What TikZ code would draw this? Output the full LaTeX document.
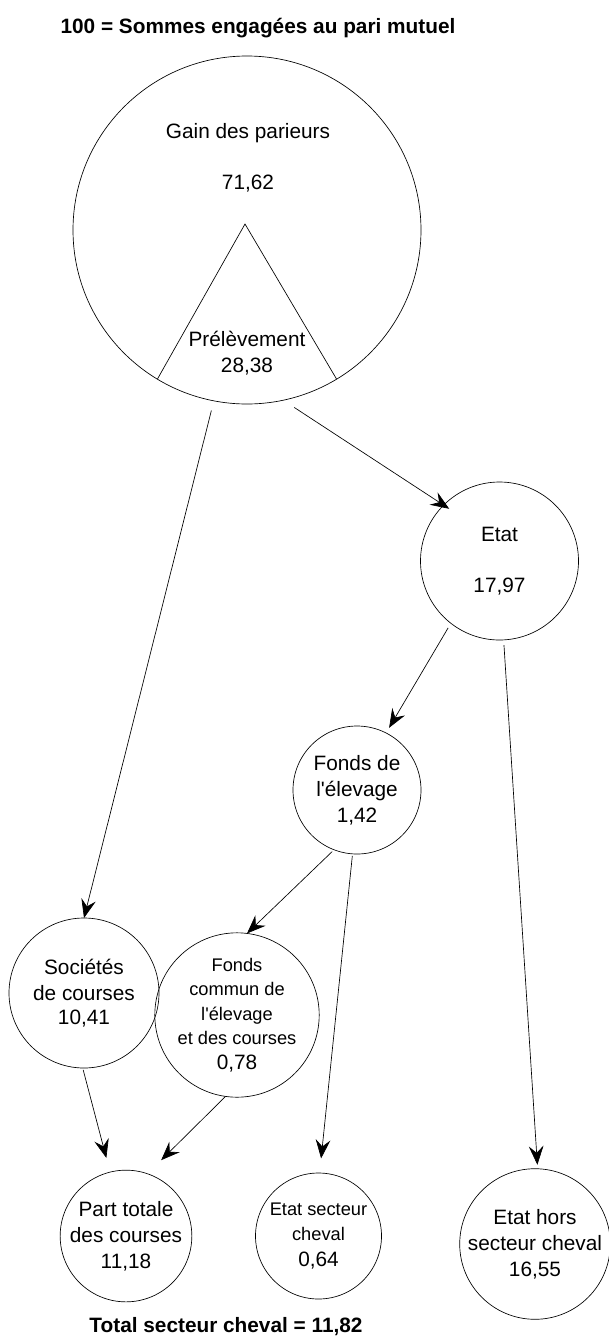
\documentclass[tikz,border=0pt]{standalone}
\usepackage{fontspec}
\setmainfont{Liberation Sans}[Ligatures=TeXOff]
\usetikzlibrary{arrows.meta}

\newcommand{\grand}{\fontsize{15.6}{19.5}\selectfont}
\newcommand{\petit}{\fontsize{13.7}{18.4}\selectfont}

\begin{document}
\begin{tikzpicture}[x=0.75pt,y=-0.75pt]
            \tikzset{rond/.style = {shape=circle, draw, line width=0.5pt, inner sep=0pt, outer sep=0pt, align=center, font=\grand}}
            \tikzset{texte/.style = {inner sep=0pt, align=center, font=\grand}}
            \tikzset{fleche/.style = {draw, line width=0.5pt, -{Stealth[length=14pt, width=11pt, inset=5pt]}}}
            \useasboundingbox (0,0) rectangle (609,1339);
            % titres
            \node[texte, font=\grand\bfseries] (titre) at (258,28) {100 = Sommes engagées au pari mutuel};
            \node[texte, font=\grand\bfseries] (total) at (226,1327) {Total secteur cheval = 11,82};
            % cercles
            \node[rond, minimum size=261pt] (big) at (247,230) {};
            \node[texte] (gain) at (248,158) {Gain des parieurs\\[19pt]71,62};
            \coordinate (apex) at (245,224);
            \draw[line width=0.5pt] (big.239) -- (apex) -- (big.301);
            \node[texte] (prelev) at (247,353) {Prélèvement\\[0.5pt]28,38};
            \node[rond, minimum size=118.5pt] (etat) at (499.5,561) {Etat\\[19pt]17,97};
            \node[rond, minimum size=96pt] (fondsel) at (357,790) {Fonds de\\[0.5pt]l'élevage\\[-0.5pt]1,42};
            \node[rond, minimum size=112.5pt] (societes) at (84,993) {Sociétés\\de courses\\[-1pt]10,41};
            \node[rond, minimum size=103.5pt, font=\petit] (fondscom) at (237,1015) {Fonds\\commun de\\l'élevage\\et des courses\\{\grand 0,78}};
            \node[rond, minimum size=96pt] (parttot) at (126,1236) {Part totale\\des courses\\11,18};
            \node[rond, minimum size=94.5pt, font=\petit] (etatsect) at (318.5,1236) {Etat secteur\\cheval\\[1pt]{\grand 0,64}};
            \node[rond, minimum size=108pt] (etathors) at (535,1244) {Etat hors\\secteur cheval\\16,55};
            % fleches
            \draw[fleche, shorten <=7.5pt] (big.259) -- (societes.north);
            \draw[fleche, shorten <=10pt, shorten >=-5pt] (big.282) -- (etat.135);
            \draw[fleche, shorten <=4pt, shorten >=4.5pt] (etat.232) -- (fondsel.63);
            \draw[fleche, shorten <=4pt, shorten >=3pt] (etat.273) -- (etathors.88);
            \draw[fleche, shorten <=2pt] (fondsel.249) -- (fondscom.83);
            \draw[fleche, shorten <=1.5pt, shorten >=11pt] (fondsel.266) -- (etatsect.89);
            \draw[fleche, shorten <=1.5pt, shorten >=11pt] (societes.269) -- (parttot.104);
            \draw[fleche, shorten >=14.5pt] (fondscom.262) -- (parttot.71);
\end{tikzpicture}
\end{document}
